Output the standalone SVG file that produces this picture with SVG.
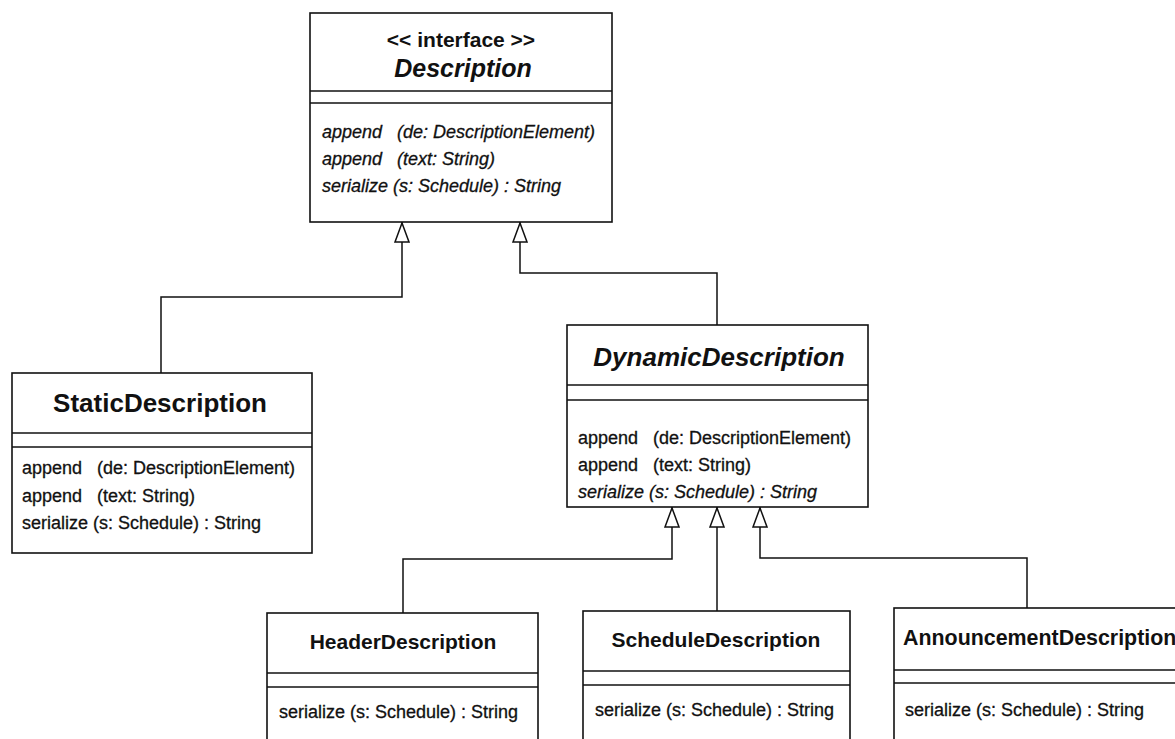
<svg xmlns="http://www.w3.org/2000/svg" width="1175" height="739" viewBox="0 0 1175 739">
  <style>
    .box { fill: #ffffff; stroke: #111111; stroke-width: 1.6; }
    .sep { stroke: #111111; stroke-width: 1.6; }
    .wire { fill: none; stroke: #111111; stroke-width: 1.5; }
    text { font-family: "Liberation Sans", Arial, Helvetica, sans-serif; fill: #111111; }
    .stereo { font-size: 21px; font-weight: bold; }
    .title { font-size: 26px; font-weight: bold; }
    .title-i { font-size: 25px; font-weight: bold; font-style: italic; }
    .title-s { font-size: 21px; font-weight: bold; }
    .title-w { font-size: 21.4px; font-weight: bold; }
    .op { font-size: 18px; stroke: #111111; stroke-width: 0.3; }
    .op-i { font-size: 18px; font-style: italic; stroke: #111111; stroke-width: 0.3; }
  </style>
  <defs>
    <marker id="inherit" viewBox="0 0 21 16" refX="21" refY="8" markerUnits="userSpaceOnUse" markerWidth="21" markerHeight="16" orient="auto">
      <path d="M1,1 L20,8 L1,15 Z" fill="#ffffff" stroke="#111111" stroke-width="1.5"/>
    </marker>
  </defs>
  <rect width="1175" height="739" fill="#ffffff"/>

  <!-- generalization connectors -->
  <g id="connectors">
    <path class="wire" d="M161,373 V297 H402 V222" marker-end="url(#inherit)"/>
    <path class="wire" d="M717,325 V273 H520 V222" marker-end="url(#inherit)"/>
    <path class="wire" d="M403,613 V559 H672 V507" marker-end="url(#inherit)"/>
    <path class="wire" d="M717,611 V507" marker-end="url(#inherit)"/>
    <path class="wire" d="M1027,608 V558 H760 V507" marker-end="url(#inherit)"/>
  </g>

  <!-- interface Description -->
  <g id="description">
    <rect class="box" x="310" y="13" width="302" height="209"/>
    <line class="sep" x1="310" y1="91" x2="612" y2="91"/>
    <line class="sep" x1="310" y1="103" x2="612" y2="103"/>
    <text class="stereo" x="461" y="47" text-anchor="middle">&lt;&lt; interface &gt;&gt;</text>
    <text class="title-i" x="463" y="77" text-anchor="middle">Description</text>
    <text class="op-i" x="322" y="138">append<tspan x="397">(de: DescriptionElement)</tspan></text>
    <text class="op-i" x="322" y="165">append<tspan x="397">(text: String)</tspan></text>
    <text class="op-i" x="322" y="192">serialize (s: Schedule) : String</text>
  </g>

  <!-- StaticDescription -->
  <g id="static-description">
    <rect class="box" x="12" y="373" width="300" height="180"/>
    <line class="sep" x1="12" y1="433" x2="312" y2="433"/>
    <line class="sep" x1="12" y1="447" x2="312" y2="447"/>
    <text class="title" x="160" y="412" text-anchor="middle">StaticDescription</text>
    <text class="op" x="22" y="474">append<tspan x="97">(de: DescriptionElement)</tspan></text>
    <text class="op" x="22" y="502">append<tspan x="97">(text: String)</tspan></text>
    <text class="op" x="22" y="529">serialize (s: Schedule) : String</text>
  </g>

  <!-- abstract DynamicDescription -->
  <g id="dynamic-description">
    <rect class="box" x="567" y="325" width="301" height="182"/>
    <line class="sep" x1="567" y1="385" x2="868" y2="385"/>
    <line class="sep" x1="567" y1="400" x2="868" y2="400"/>
    <text class="title" font-style="italic" x="719" y="366" text-anchor="middle">DynamicDescription</text>
    <text class="op" x="578" y="444">append<tspan x="653">(de: DescriptionElement)</tspan></text>
    <text class="op" x="578" y="471">append<tspan x="653">(text: String)</tspan></text>
    <text class="op-i" x="578" y="498">serialize (s: Schedule) : String</text>
  </g>

  <!-- HeaderDescription -->
  <g id="header-description">
    <rect class="box" x="267" y="613" width="271" height="150"/>
    <line class="sep" x1="267" y1="673" x2="538" y2="673"/>
    <line class="sep" x1="267" y1="687" x2="538" y2="687"/>
    <text class="title-s" x="403" y="649" text-anchor="middle">HeaderDescription</text>
    <text class="op" x="279" y="718">serialize (s: Schedule) : String</text>
  </g>

  <!-- ScheduleDescription -->
  <g id="schedule-description">
    <rect class="box" x="583" y="611" width="267" height="150"/>
    <line class="sep" x1="583" y1="671" x2="850" y2="671"/>
    <line class="sep" x1="583" y1="685" x2="850" y2="685"/>
    <text class="title-s" x="716" y="647" text-anchor="middle">ScheduleDescription</text>
    <text class="op" x="595" y="716">serialize (s: Schedule) : String</text>
  </g>

  <!-- AnnouncementDescription -->
  <g id="announcement-description">
    <rect class="box" x="894" y="608" width="300" height="150"/>
    <line class="sep" x1="894" y1="670" x2="1194" y2="670"/>
    <line class="sep" x1="894" y1="683" x2="1194" y2="683"/>
    <text class="title-w" x="903" y="645">AnnouncementDescription</text>
    <text class="op" x="905" y="716">serialize (s: Schedule) : String</text>
  </g>
</svg>
